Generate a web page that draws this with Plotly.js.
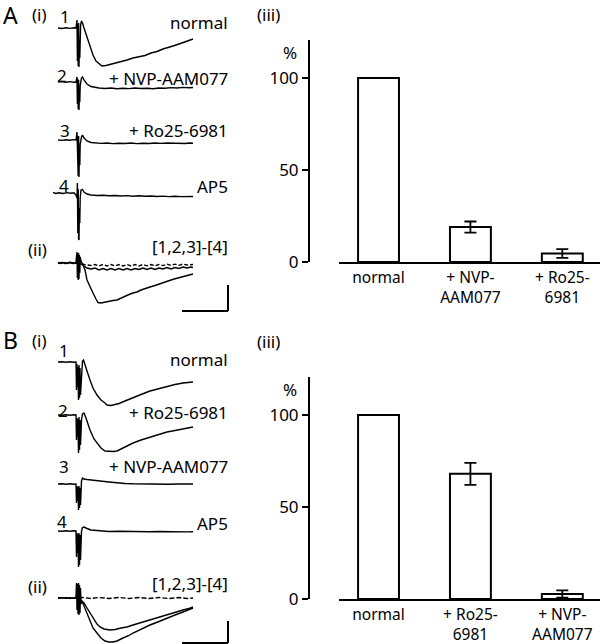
<!DOCTYPE html>
<html>
<head>
<meta charset="utf-8">
<script src="https://cdn.plot.ly/plotly-3.0.1.min.js"></script>
<style>html,body{margin:0;padding:0;background:#fff;}#chart{width:600px;height:644px;}</style>
</head>
<body>
<div id="chart"></div>
<script>
// ---------- DATA ----------
// Field-potential traces: [time (a.u., 0 = stimulus), amplitude (a.u., 0 = baseline)]
const traceA1 = [[-21,0],[-17,-0.5],[-13,0.3],[-9,-0.4],[-5,0.2],[-3,0],[-2,8],[-1.6,-33],[-1.2,4],[-0.8,-38],[-0.4,5],[0,-39],[0.4,-12],[0.8,-30],[1.2,-8],[1.6,3],[2.5,7],[3.5,5],[5,0],[8,-9],[11,-18],[14,-27],[17,-33],[20,-36],[23,-38],[27,-37.5],[31,-36.5],[36,-35.5],[42,-33.5],[48,-32],[54,-30],[60,-28.5],[66,-27.5],[72,-25],[78,-23.5],[84,-21],[88,-19.5],[94,-18],[100,-16],[106,-14],[110,-12.5],[114,-11]];
const traceA2 = [[-21,0],[-17,0.5],[-13,-0.3],[-9,0.4],[-5,-0.2],[-3,0],[-2,5],[-1.6,-22],[-1.2,3],[-0.8,-27],[-0.4,2],[0,-28],[0.4,-10],[0.8,-20],[1.2,-3],[2.5,4],[3.5,5],[5,2],[8,-2],[12,-4.5],[16,-5.5],[20,-6],[26,-6.5],[32,-6],[38,-6.8],[44,-6.2],[50,-6.6],[56,-6],[62,-6.5],[68,-6.2],[74,-6.8],[80,-6],[86,-6.3],[92,-5.6],[98,-6],[104,-5.4],[110,-5.8],[114,-5.5]];
const traceA3 = [[-21,0],[-17,-0.4],[-13,0.3],[-9,-0.3],[-5,0.4],[-3,0],[-2,8],[-1.6,-30],[-1.2,3],[-0.8,-36],[-0.4,4],[0,-37],[0.4,-12],[0.8,-25],[1.2,-4],[2.5,3],[3.5,5],[5,2],[8,-1],[12,-2.5],[16,-3],[22,-3.4],[28,-3],[34,-3.6],[40,-3.2],[46,-3.5],[52,-3],[58,-3.6],[64,-3.2],[70,-3.5],[76,-3],[82,-3.4],[88,-3],[94,-3.4],[100,-3.1],[106,-3.5],[110,-3],[114,-3.2]];
const traceA4 = [[-26,0.5],[-23,-0.5],[-20,0.3],[-16,-0.5],[-12,0.4],[-8,-0.3],[-5,0.2],[-3,-2],[-2,-5],[-1.6,10],[-1.2,-40],[-0.8,4],[-0.4,-46],[0,-47],[0.4,-15],[0.8,-30],[1.2,-5],[2,3],[3.5,3.5],[5,1],[8,-1],[12,-2],[18,-2.5],[24,-2.2],[30,-2.8],[36,-2.5],[42,-3],[48,-2.6],[54,-3.2],[60,-2.8],[66,-3.3],[72,-3],[78,-3.5],[84,-3.1],[90,-3.6],[96,-3.2],[102,-3.6],[108,-3.3],[114,-3.5]];
const diffA1 = [[-21,0],[-17,0.6],[-13,-0.5],[-9,0.7],[-5,-0.4],[-3,1],[-2,11],[-1.6,-15],[-1.2,9],[-0.8,-17],[-0.4,10],[0,-16],[0.4,8],[0.8,-10],[1.2,6],[2,2],[4,-2],[6,-7],[8,-17],[11,-24],[14,-30],[17,-36],[19,-39.5],[22,-40],[26,-39],[30,-38.5],[34,-37.5],[38,-37],[42,-35],[46,-33],[50,-31.5],[54,-30],[58,-29],[62,-27],[66,-26],[71,-24],[76,-22.5],[80,-21],[85,-19],[88,-18],[92,-17],[97,-15.5],[102,-14],[106,-13],[110,-12],[114,-11]];
const diffA2 = [[-21,0.5],[-18,-0.5],[-15,0.5],[-12,-0.5],[-9,0.5],[-6,-0.5],[-3,0],[2,-1],[5,-3],[8,-5],[12,-6],[16,-5],[20,-7],[24,-5.5],[28,-7],[32,-5.5],[36,-7],[40,-5.5],[44,-7],[48,-5.5],[52,-7],[56,-5.5],[60,-6.5],[64,-5],[68,-6.5],[72,-5],[76,-6.5],[80,-5],[84,-6],[88,-4.5],[92,-6],[96,-4.5],[100,-5.5],[104,-4],[108,-5],[112,-4],[114,-4.5]];
const diffA3 = [[-21,0],[-15,-0.5],[-9,0.5],[-3,0],[2,-0.5],[5,-1.5],[8,-2],[12,-2.5],[16,-1.5],[20,-3],[24,-1.5],[28,-3],[32,-1.5],[36,-3],[40,-1.5],[44,-3],[48,-1.5],[52,-3],[56,-1.5],[60,-3],[64,-1.5],[68,-2.8],[72,-1.5],[76,-2.8],[80,-1.5],[84,-2.6],[88,-1.2],[92,-2.5],[96,-1.2],[100,-2.3],[104,-1],[108,-2],[114,-1.5]];

const traceB1 = [[-21,0],[-17,0.3],[-13,-0.3],[-9,0.3],[-5,-0.2],[-3,0],[-2.5,-28],[-2,-2],[-1.5,-25],[-1,-5],[-0.5,-38],[0,-3],[0.5,-36],[1,-6],[1.5,-33],[2,-20],[2.5,-8],[3.5,1],[4.5,2],[6,-2],[8,-9],[11,-18],[14,-26],[18,-33],[22,-38],[26,-41],[28,-43],[32,-43.5],[36,-42.5],[40,-41.5],[46,-39],[54,-35.5],[62,-32.5],[71,-29],[80,-26.5],[88,-24],[96,-22.5],[104,-21],[110,-20.5],[114,-20]];
const traceB2 = [[-21,0],[-17,-0.3],[-13,0.3],[-9,-0.3],[-5,0.2],[-3,0],[-2.5,-25],[-2,-3],[-1.5,-22],[-1,-4],[-0.5,-38],[0,-2],[0.5,-35],[1,-5],[1.5,-30],[2,-15],[2.5,-5],[3.5,1],[5,2],[7,-3],[11,-15],[15,-24],[18,-28],[22,-33],[26,-36],[30,-36.5],[34,-36.5],[38,-36],[44,-33],[50,-30.5],[54,-28],[62,-25],[71,-22],[80,-19.5],[88,-17],[96,-15.5],[104,-14],[110,-12.5],[114,-12]];
const traceB3 = [[-21,0],[-17,0.3],[-13,-0.3],[-9,0.3],[-5,-0.2],[-3,0],[-2.5,-19],[-2,-2],[-1.5,-17],[-1,-3],[-0.5,-26],[0,-2],[0.5,-24],[1,-4],[1.5,-21],[2,-8],[2.5,3],[3.5,6],[5,5],[8,4.5],[14,3.5],[21,3],[30,2],[38,1],[46,0.5],[54,0.2],[62,0],[70,-0.3],[80,0],[90,-0.3],[100,0],[108,-0.3],[114,0]];
const traceB4 = [[-21,0],[-17,-0.3],[-13,0.3],[-9,-0.3],[-5,0.2],[-3,0],[-2.5,-26],[-2,-2],[-1.5,-22],[-1,-3],[-0.5,-36],[0,-2],[0.5,-34],[1,-4],[1.5,-29],[2,-10],[2.5,0],[3.5,3.5],[5,4],[8,2.5],[12,1],[18,0.5],[24,0],[30,-0.5],[40,-0.3],[50,-0.6],[60,-0.4],[70,-0.8],[80,-0.5],[90,-0.8],[100,-0.6],[108,-0.9],[114,-0.7]];
const diffB1 = [[-21,0],[-17,0.4],[-13,-0.4],[-9,0.4],[-5,-0.3],[-3,1],[-2.5,15],[-2,-12],[-1.5,14],[-1,-16],[-0.5,15],[0,-17],[0.5,13],[1,-15],[1.5,10],[2,-6],[3,-3],[5,-8],[8,-15],[11,-22],[14,-30],[18,-35],[22,-40],[26,-43],[30,-44],[34,-44],[38,-43],[44,-40],[50,-37.5],[54,-35],[62,-31],[71,-27],[80,-23.5],[88,-20],[96,-17],[104,-14],[110,-12],[114,-10]];
const diffB2 = [[-21,0],[-15,0.4],[-9,-0.4],[-3,0],[2,-2],[5,-5],[8,-10],[11,-15],[15,-22],[18,-26],[21,-29],[25,-31],[31,-32],[36,-31.5],[42,-30],[48,-29],[54,-27],[62,-24.5],[71,-22],[80,-19.5],[88,-17],[96,-14.5],[104,-12],[110,-10.5],[114,-9]];
const diffB3 = [[-21,0],[-15,0.5],[-9,-0.5],[-3,0],[4,0.5],[12,-0.5],[20,0.5],[30,-0.5],[40,0.5],[50,-0.5],[60,0.5],[70,-0.5],[80,0.5],[90,-0.5],[100,0.5],[108,-0.5],[114,0]];

// Bar charts (% of normal)
const catsA = ['normal', '+ NVP-<br>AAM077', '+ Ro25-<br>6981'];
const valsA = [100, 19, 4.6];
const errA  = [0, 3, 2.4];
const catsB = ['normal', '+ Ro25-<br>6981', '+ NVP-<br>AAM077'];
const valsB = [100, 68, 2.7];
const errB  = [0, 6, 2];
const pctTicks = [0, 50, 100];

// ---------- LAYOUT HELPERS ----------
const W = 600, H = 644;
const FONT = 'Noto Sans, DejaVu Sans, sans-serif';
const px = x => x / W;
const py = y => 1 - y / H;
const clamp = v => Math.max(0, Math.min(1, v));

// baselines of the trace rows, in pixels from the top
const rowBase = [28, 82, 140, 193, 263, 362, 415, 484, 531, 598];

const layout = {
  width: W, height: H,
  margin: {l: 0, r: 0, t: 0, b: 0},
  paper_bgcolor: '#fff', plot_bgcolor: 'rgba(0,0,0,0)',
  showlegend: false,
  font: {family: FONT, size: 17, color: '#000'},
  xaxis: {domain: [px(53), px(232)], range: [-26, 153], visible: false, fixedrange: true},
  annotations: [], shapes: []
};

rowBase.forEach((b, i) => {
  const hi = Math.min(30, b);
  const lo = -Math.min(60, H - b);
  const name = 'yaxis' + (i === 0 ? '' : (i + 1));
  layout[name] = {
    domain: [clamp(1 - (b - lo) / H), clamp(1 - (b - hi) / H)],
    range: [lo, hi], visible: false, anchor: 'x', fixedrange: true
  };
});

const data = [];
function addTrace(pairs, row, dash) {
  data.push({
    type: 'scatter', mode: 'lines',
    x: pairs.map(p => p[0]), y: pairs.map(p => p[1]),
    xaxis: 'x', yaxis: 'y' + (row === 0 ? '' : (row + 1)),
    line: {color: '#000', width: 1.4, dash: dash || 'solid'},
    hoverinfo: 'skip'
  });
}
addTrace(traceA1, 0); addTrace(traceA2, 1); addTrace(traceA3, 2); addTrace(traceA4, 3);
addTrace(diffA2, 4); addTrace(diffA3, 4, '4px,2px'); addTrace(diffA1, 4);
addTrace(traceB1, 5); addTrace(traceB2, 6); addTrace(traceB3, 7); addTrace(traceB4, 8);
addTrace(diffB3, 9, '5px,2px'); addTrace(diffB2, 9); addTrace(diffB1, 9);

// scale bars (time / amplitude units of the traces)
function scaleBar(yref, yBottom, yTop) {
  layout.shapes.push({type: 'line', xref: 'x', yref: yref, x0: 149, x1: 149, y0: yBottom, y1: yTop, line: {color: '#000', width: 2}});
  layout.shapes.push({type: 'line', xref: 'x', yref: yref, x0: 103, x1: 149, y0: yBottom, y1: yBottom, line: {color: '#000', width: 2}});
}
scaleBar('y5', -48, -22);
scaleBar('y10', -45, -23);

// bar chart axes
function barAxes(xName, yName, yNum, yBottomPx, yTopPx, cats) {
  layout[xName] = {
    domain: [px(339), 1], range: [-0.43, 2.41], anchor: 'y' + yNum,
    showline: true, linewidth: 2, linecolor: '#000', ticks: '', showgrid: false, zeroline: false,
    tickmode: 'array', tickvals: cats.map((c, i) => i), ticktext: cats,
    tickfont: {family: FONT, size: 15.5, color: '#000'}, fixedrange: true
  };
  layout[yName] = {
    domain: [py(yBottomPx), py(yTopPx)], range: [0, 120.6], anchor: 'free', position: px(309),
    showline: true, linewidth: 2, linecolor: '#000', ticks: 'outside', ticklen: 6, tickwidth: 2, tickcolor: '#000',
    tickmode: 'array', tickvals: pctTicks, showgrid: false, zeroline: false,
    tickfont: {family: FONT, size: 17, color: '#000'}, fixedrange: true
  };
}
barAxes('xaxis2', 'yaxis11', 11, 262, 40, catsA);
barAxes('xaxis3', 'yaxis12', 12, 599, 377, catsB);

function addBars(vals, errs, xa, ya) {
  data.push({
    type: 'bar', x: vals.map((v, i) => i), y: vals, width: 0.445,
    xaxis: xa, yaxis: ya,
    marker: {color: '#fff', line: {color: '#000', width: 2}},
    error_y: {type: 'data', array: errs, visible: true, color: '#000', thickness: 1.8, width: 6},
    hoverinfo: 'skip'
  });
}
addBars(valsA, errA, 'x2', 'y11');
addBars(valsB, errB, 'x3', 'y12');

// text labels
const labels = [
  ['A', 2, 15, 'left', 23], ['(i)', 31, 15, 'left', 17], ['1', 65, 16, 'center', 17],
  ['normal', 229, 23, 'right', 17], ['2', 62, 75, 'center', 17], ['+ NVP-AAM077', 229, 78, 'right', 17],
  ['3', 65, 131, 'center', 17], ['+ Ro25-6981', 229, 131, 'right', 17],
  ['4', 64, 185, 'center', 17], ['AP5', 229, 186, 'right', 17],
  ['(ii)', 27, 249, 'left', 17], ['[1,2,3]-[4]', 229, 246, 'right', 17],
  ['(iii)', 256, 15, 'left', 17], ['%', 290, 52, 'center', 17],
  ['B', 2, 340, 'left', 23], ['(i)', 31, 340, 'left', 17], ['1', 64, 351, 'center', 17],
  ['normal', 229, 360, 'right', 17], ['2', 63, 410, 'center', 17], ['+ Ro25-6981', 229, 412, 'right', 17],
  ['3', 64, 466, 'center', 17], ['+ NVP-AAM077', 229, 467, 'right', 17],
  ['4', 62, 521, 'center', 17], ['AP5', 229, 523, 'right', 17],
  ['(ii)', 27, 586, 'left', 17], ['[1,2,3]-[4]', 229, 583, 'right', 17],
  ['(iii)', 256, 342, 'left', 17], ['%', 290, 389, 'center', 17]
];
labels.forEach(([t, x, y, xa, s]) => {
  layout.annotations.push({
    text: t, x: px(x), y: py(y), xref: 'paper', yref: 'paper',
    xanchor: xa, yanchor: 'middle', showarrow: false, borderpad: 0,
    font: {family: FONT, size: s, color: '#000'}
  });
});

Plotly.newPlot('chart', data, layout, {staticPlot: true, displayModeBar: false});
</script>
</body>
</html>
